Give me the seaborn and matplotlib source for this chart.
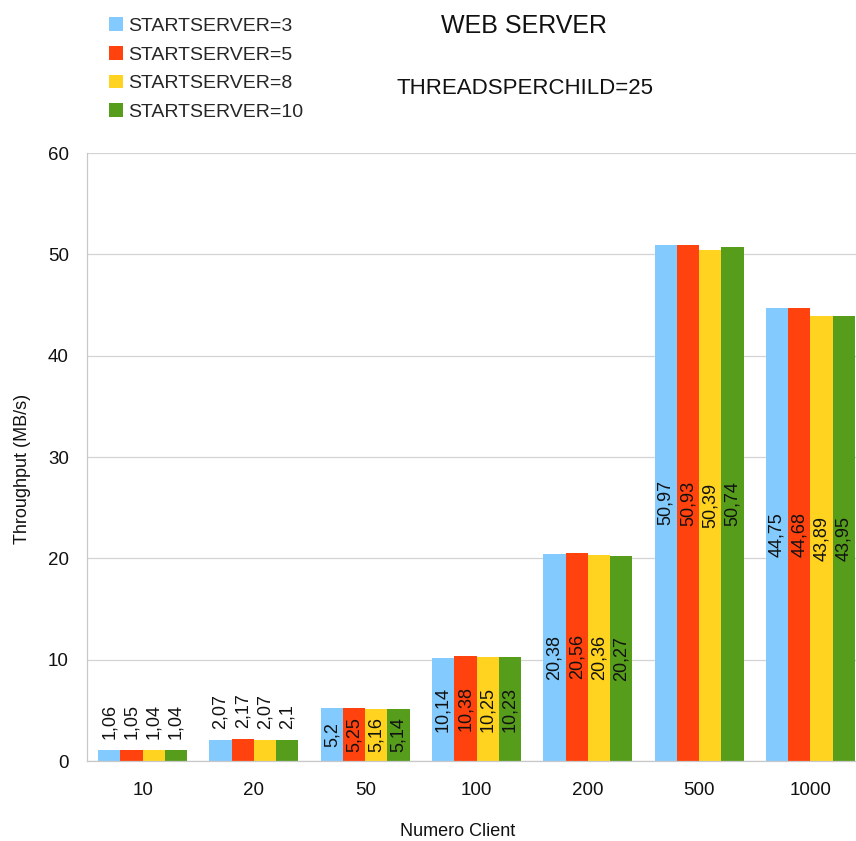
import matplotlib
matplotlib.use("Agg")
import matplotlib.pyplot as plt
from matplotlib.patches import Patch
import seaborn as sns
import pandas as pd

# Throughput (MB/s) per number of clients, one series per StartServers setting
clients = ["10", "20", "50", "100", "200", "500", "1000"]
servers = ["STARTSERVER=3", "STARTSERVER=5", "STARTSERVER=8", "STARTSERVER=10"]
ss3 = [1.06, 2.07, 5.2, 10.14, 20.38, 50.97, 44.75]
ss5 = [1.05, 2.17, 5.25, 10.38, 20.56, 50.93, 44.68]
ss8 = [1.04, 2.07, 5.16, 10.25, 20.36, 50.39, 43.89]
ss10 = [1.04, 2.1, 5.14, 10.23, 20.27, 50.74, 43.95]
colors = ["#83CAFF", "#FF420E", "#FFD320", "#579D1C"]
y_ticks = [0, 10, 20, 30, 40, 50, 60]

rows = []
for name, vals in zip(servers, [ss3, ss5, ss8, ss10]):
    for c, v in zip(clients, vals):
        rows.append({"client": c, "server": name, "throughput": v})
df = pd.DataFrame(rows)

sns.set_theme(style="white")
plt.rcParams["font.family"] = ["Liberation Sans", "DejaVu Sans"]

W, H = 856, 841
fig = plt.figure(figsize=(W / 100, H / 100), dpi=100)
ax = fig.add_axes([87 / W, (H - 761) / H, (866 - 87) / W, (761 - 153) / H])

sns.barplot(data=df, x="client", y="throughput", hue="server",
            order=clients, hue_order=servers, palette=colors,
            saturation=1, width=0.8, linewidth=0, errorbar=None,
            legend=False, ax=ax)

ax.set_ylim(0, 60)
ax.set_xlim(-0.5, len(clients) - 0.5)
ax.set_yticks(y_ticks)
ax.yaxis.grid(True, color="#d4d4d4", linewidth=0.9)
ax.set_axisbelow(True)
for side in ["top", "right"]:
    ax.spines[side].set_visible(False)
for side in ["left", "bottom"]:
    ax.spines[side].set_color("#c8c8c8")
    ax.spines[side].set_linewidth(0.9)

# group separators as minor ticks
ax.set_xticks([i - 0.5 for i in range(len(clients) + 1)], minor=True)
ax.tick_params(axis="x", which="major", length=0, labelsize=13.5, pad=15,
               labelcolor="#111111")
ax.tick_params(axis="x", which="minor", length=8, color="#c8c8c8", width=0.9)
ax.tick_params(axis="y", length=9, color="#c8c8c8", width=0.9,
               labelsize=13.5, pad=4, labelcolor="#111111")
ax.set_xlabel("")
ax.set_ylabel("")

# value labels: inside (centered) when the bar is tall enough, above otherwise
for cont, vals in zip(ax.containers, [ss3, ss5, ss8, ss10]):
    texts = [f"{v:g}".replace(".", ",") for v in vals]
    inside = [t if v >= 4 else "" for t, v in zip(texts, vals)]
    above = [t if v < 4 else "" for t, v in zip(texts, vals)]
    ax.bar_label(cont, labels=inside, label_type="center", rotation=90,
                 fontsize=13, color="#111111")
    ax.bar_label(cont, labels=above, label_type="edge", rotation=90,
                 fontsize=13, color="#111111", padding=8)

fig.text(458 / W, 1 - 832 / H, "Numero Client", ha="center", va="center",
         fontsize=13, color="#111111")
fig.text(23 / W, 1 - 469 / H, "Throughput (MB/s)", ha="center", va="center",
         rotation=90, fontsize=13, color="#111111")

fig.text(524 / W, 1 - 33 / H, "WEB SERVER", ha="center", va="baseline",
         fontsize=18, color="#111111")
fig.text(525 / W, 1 - 94 / H, "THREADSPERCHILD=25", ha="center",
         va="baseline", fontsize=16, color="#111111")

handles = [Patch(facecolor=c, edgecolor="none") for c in colors]
fig.legend(handles, servers, loc="upper left",
           bbox_to_anchor=(109 / W, 1 - 17 / H), frameon=False,
           fontsize=14, handlelength=0.72, handleheight=0.72,
           handletextpad=0.25, labelspacing=0.57, borderpad=0,
           borderaxespad=0)

fig.savefig("out.png", dpi=100)
